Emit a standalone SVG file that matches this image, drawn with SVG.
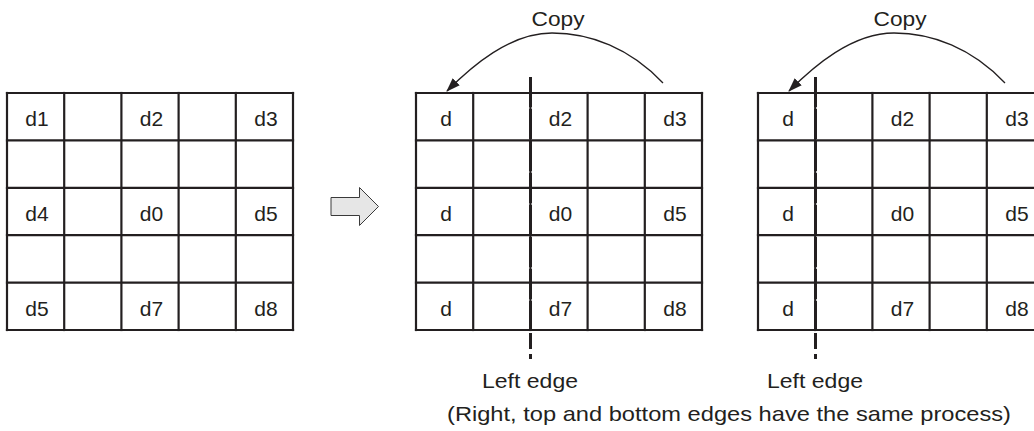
<svg xmlns="http://www.w3.org/2000/svg" xmlns:xlink="http://www.w3.org/1999/xlink" width="1034" height="431" viewBox="0 0 1034 431">
  <style>
    .grid line { stroke: #231f20; stroke-width: 2.2; stroke-linecap: square; }
    .cell { font-family: "Liberation Sans", Arial, sans-serif; font-size: 21px; fill: #231f20; text-anchor: middle; }
    .lbl { font-family: "Liberation Sans", Arial, sans-serif; font-size: 21px; fill: #231f20; text-anchor: middle; }
    .edge { stroke: #231f20; stroke-width: 3; fill: none; }
    .copy { stroke: #231f20; stroke-width: 1.3; fill: none; }
    .block { fill: #e6e6e6; stroke: #3a3a3a; stroke-width: 1; }
  </style>
  <defs>
    <g id="gridlines" class="grid">
      <line x1="0" y1="93" x2="286" y2="93"/>
      <line x1="0" y1="140.4" x2="286" y2="140.4"/>
      <line x1="0" y1="187.8" x2="286" y2="187.8"/>
      <line x1="0" y1="235.2" x2="286" y2="235.2"/>
      <line x1="0" y1="282.6" x2="286" y2="282.6"/>
      <line x1="0" y1="330" x2="286" y2="330"/>
      <line x1="0" y1="93" x2="0" y2="330"/>
      <line x1="57.2" y1="93" x2="57.2" y2="330"/>
      <line x1="114.4" y1="93" x2="114.4" y2="330"/>
      <line x1="171.6" y1="93" x2="171.6" y2="330"/>
      <line x1="228.8" y1="93" x2="228.8" y2="330"/>
      <line x1="286" y1="93" x2="286" y2="330"/>
    </g>
    <marker id="head" viewBox="0 0 14 10" refX="13" refY="5" markerWidth="14" markerHeight="10" markerUnits="userSpaceOnUse" orient="auto">
      <path d="M0,0 L14,5 L0,10 Z" fill="#231f20"/>
    </marker>
  </defs>

  <g id="source-grid">
    <use xlink:href="#gridlines" x="7"/>
    <text class="cell" x="37" y="126">d1</text>
    <text class="cell" x="151.5" y="126">d2</text>
    <text class="cell" x="266" y="126">d3</text>
    <text class="cell" x="37" y="220.8">d4</text>
    <text class="cell" x="151.5" y="220.8">d0</text>
    <text class="cell" x="266" y="220.8">d5</text>
    <text class="cell" x="37" y="315.6">d5</text>
    <text class="cell" x="151.5" y="315.6">d7</text>
    <text class="cell" x="266" y="315.6">d8</text>
  </g>

  <g id="transform-arrow">
    <polygon class="block" points="331,197.5 359.5,197.5 359.5,187.5 378.5,206.5 359.5,225.5 359.5,215.5 331,215.5"/>
  </g>

  <g id="middle-grid">
    <use xlink:href="#gridlines" x="416"/>
    <path class="edge" d="M530.5,77 V349" stroke-dasharray="30 2"/>
    <path class="edge" d="M530.5,354 V359"/>
    <text class="cell" x="446" y="126">d</text>
    <text class="cell" x="560.5" y="126">d2</text>
    <text class="cell" x="675" y="126">d3</text>
    <text class="cell" x="446" y="220.8">d</text>
    <text class="cell" x="560.5" y="220.8">d0</text>
    <text class="cell" x="675" y="220.8">d5</text>
    <text class="cell" x="446" y="315.6">d</text>
    <text class="cell" x="560.5" y="315.6">d7</text>
    <text class="cell" x="675" y="315.6">d8</text>
    <text class="lbl" x="558" y="26" textLength="53" lengthAdjust="spacingAndGlyphs">Copy</text>
    <text class="lbl" x="530" y="388" textLength="96" lengthAdjust="spacingAndGlyphs">Left edge</text>
  </g>

  <g id="right-grid">
    <use xlink:href="#gridlines" x="758"/>
    <path class="edge" d="M815.5,77 V349" stroke-dasharray="30 2"/>
    <path class="edge" d="M815.5,354 V359"/>
    <text class="cell" x="788" y="126">d</text>
    <text class="cell" x="902.5" y="126">d2</text>
    <text class="cell" x="1017" y="126">d3</text>
    <text class="cell" x="788" y="220.8">d</text>
    <text class="cell" x="902.5" y="220.8">d0</text>
    <text class="cell" x="1017" y="220.8">d5</text>
    <text class="cell" x="788" y="315.6">d</text>
    <text class="cell" x="902.5" y="315.6">d7</text>
    <text class="cell" x="1017" y="315.6">d8</text>
    <text class="lbl" x="900" y="26" textLength="53" lengthAdjust="spacingAndGlyphs">Copy</text>
    <text class="lbl" x="815" y="388" textLength="96" lengthAdjust="spacingAndGlyphs">Left edge</text>
  </g>

  <g id="note">
    <text class="lbl" x="729" y="421" textLength="564" lengthAdjust="spacingAndGlyphs">(Right, top and bottom edges have the same process)</text>
  </g>

  <g id="connectors">
    <path class="copy" d="M663,83 C630,48 590,33 552,33 C510,33 472,66 447,91" marker-end="url(#head)"/>
    <path class="copy" d="M1005,83 C972,48 932,33 894,33 C852,33 814,66 789,91" marker-end="url(#head)"/>
  </g>
</svg>
